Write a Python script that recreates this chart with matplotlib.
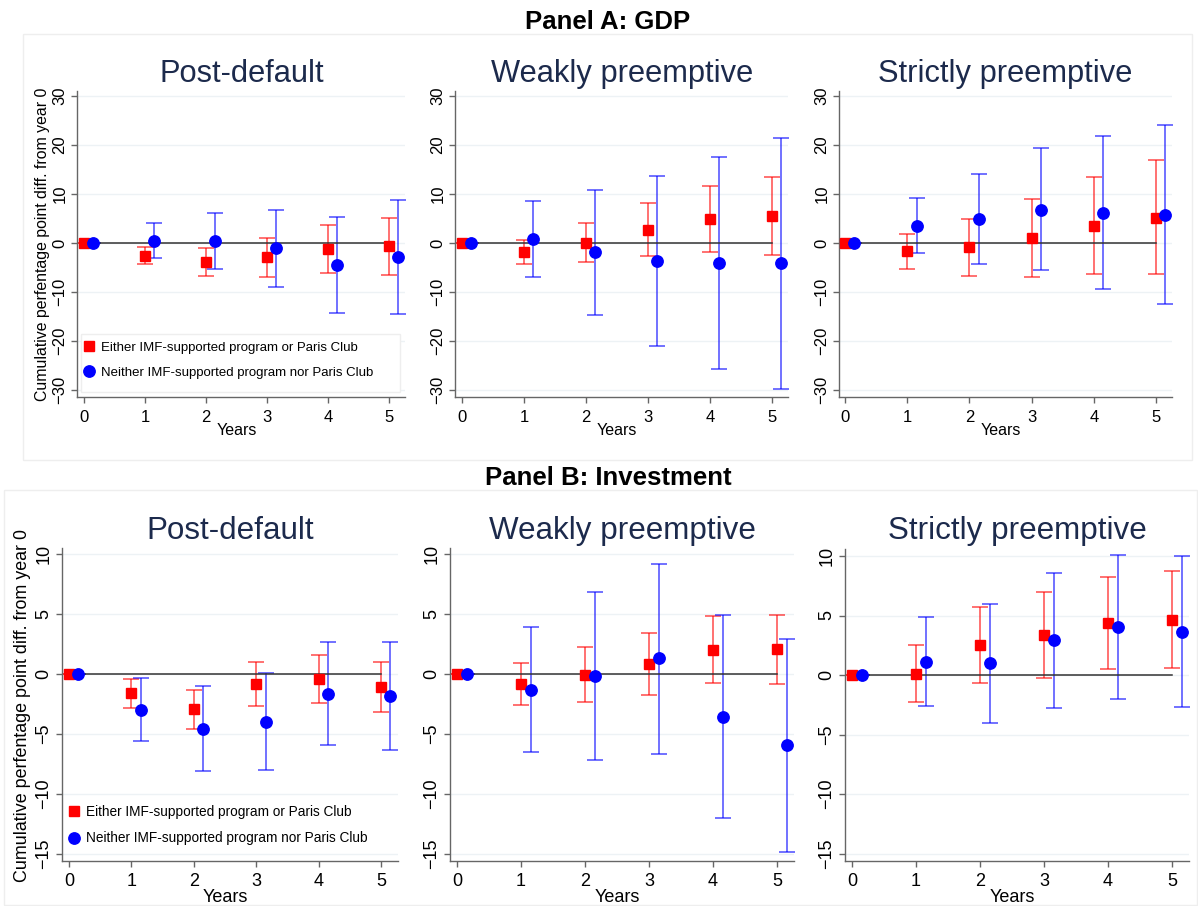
import matplotlib
matplotlib.use("Agg")
import matplotlib.pyplot as plt
from matplotlib.lines import Line2D
from matplotlib.patches import Rectangle
import numpy as np

plt.rcParams['font.family'] = ['Liberation Sans', 'DejaVu Sans']

W, H = 1198, 906
years = [0, 1, 2, 3, 4, 5]

# ---- Panel A: GDP ----
gdp_post_either = [0, -2.6, -3.8, -2.9, -1.2, -0.7]
gdp_post_either_lo = [0, -4.3, -6.8, -6.9, -6.2, -6.5]
gdp_post_either_hi = [0, -0.75, -1.0, 1.1, 3.7, 5.05]
gdp_post_neither = [0, 0.4, 0.4, -1.1, -4.5, -2.9]
gdp_post_neither_lo = [0, -3.1, -5.3, -8.9, -14.3, -14.4]
gdp_post_neither_hi = [0, 4.0, 6.2, 6.8, 5.3, 8.7]

gdp_weak_either = [0, -1.8, 0.1, 2.7, 4.9, 5.5]
gdp_weak_either_lo = [0, -4.2, -3.8, -2.7, -1.8, -2.5]
gdp_weak_either_hi = [0, 0.7, 4.1, 8.1, 11.6, 13.4]
gdp_weak_neither = [0, 0.8, -1.9, -3.7, -4.0, -4.0]
gdp_weak_neither_lo = [0, -7.0, -14.7, -21.1, -25.8, -29.7]
gdp_weak_neither_hi = [0, 8.6, 10.8, 13.6, 17.6, 21.4]

gdp_strict_either = [0, -1.6, -0.9, 1.0, 3.5, 5.2]
gdp_strict_either_lo = [0, -5.3, -6.7, -7.0, -6.4, -6.4]
gdp_strict_either_hi = [0, 1.9, 4.9, 8.9, 13.4, 17.0]
gdp_strict_neither = [0, 3.5, 4.9, 6.8, 6.2, 5.8]
gdp_strict_neither_lo = [0, -2.1, -4.2, -5.6, -9.3, -12.5]
gdp_strict_neither_hi = [0, 9.1, 14.0, 19.3, 21.8, 24.0]

# ---- Panel B: Investment ----
inv_post_either = [0, -1.6, -2.9, -0.8, -0.45, -1.05]
inv_post_either_lo = [0, -2.8, -4.6, -2.7, -2.4, -3.15]
inv_post_either_hi = [0, -0.4, -1.3, 1.0, 1.55, 1.0]
inv_post_neither = [0, -3.0, -4.6, -4.0, -1.65, -1.85]
inv_post_neither_lo = [0, -5.6, -8.1, -8.0, -5.95, -6.3]
inv_post_neither_hi = [0, -0.3, -1.0, 0.05, 2.65, 2.65]

inv_weak_either = [0, -0.8, -0.1, 0.85, 2.0, 2.05]
inv_weak_either_lo = [0, -2.55, -2.35, -1.75, -0.75, -0.85]
inv_weak_either_hi = [0, 0.9, 2.25, 3.45, 4.8, 4.95]
inv_weak_neither = [0, -1.3, -0.2, 1.3, -3.55, -5.9]
inv_weak_neither_lo = [0, -6.5, -7.2, -6.7, -12.0, -14.8]
inv_weak_neither_hi = [0, 3.95, 6.8, 9.2, 4.95, 2.95]

inv_strict_either = [0, 0.1, 2.55, 3.35, 4.35, 4.65]
inv_strict_either_lo = [0, -2.25, -0.65, -0.25, 0.5, 0.6]
inv_strict_either_hi = [0, 2.5, 5.75, 7.0, 8.2, 8.7]
inv_strict_neither = [0, 1.1, 1.0, 2.9, 4.0, 3.65]
inv_strict_neither_lo = [0, -2.6, -4.05, -2.75, -2.05, -2.65]
inv_strict_neither_hi = [0, 4.85, 6.0, 8.6, 10.1, 10.0]

subtitles = ["Post-default", "Weakly preemptive", "Strictly preemptive"]
legend_labels = ["Either IMF-supported program or Paris Club",
                 "Neither IMF-supported program nor Paris Club"]
ylabel = "Cumulative perfentage point diff. from year 0"
xlabel = "Years"
gdp_yticks = [-30, -20, -10, 0, 10, 20, 30]
inv_yticks = [-15, -10, -5, 0, 5, 10]

RED = '#ff0000'
BLUE = '#0000ff'
NAVY = '#1c2a4c'
GRID = '#edf2f5'
SPINE = '#666666'

fig = plt.figure(figsize=(W / 100, H / 100), dpi=100)


def px_axes(left, top, right, bottom):
    return fig.add_axes([left / W, 1 - bottom / H, (right - left) / W, (bottom - top) / H])


def draw(ax, e, elo, ehi, n, nlo, nhi, yticks, ylim, xlim, tsize):
    x = np.array(years, dtype=float)
    xb = x + 0.15
    e, elo, ehi = map(np.array, (e, elo, ehi))
    n, nlo, nhi = map(np.array, (n, nlo, nhi))
    ax.errorbar(x, e, yerr=[e - elo, ehi - e], fmt='none', ecolor=RED, alpha=0.6,
                elinewidth=1.3, capsize=5.8, capthick=1.3, zorder=2)
    ax.errorbar(xb, n, yerr=[n - nlo, nhi - n], fmt='none', ecolor=BLUE, alpha=0.6,
                elinewidth=1.3, capsize=5.8, capthick=1.3, zorder=2)
    ax.plot([0, 5], [0, 0], color='#333333', lw=1.1, zorder=2.5)
    ax.plot(x, e, ls='none', marker='s', ms=7.5, color=RED, mec=RED, zorder=3)
    ax.plot(xb, n, ls='none', marker='o', ms=8.2, color=BLUE, mec=BLUE, zorder=3)
    ax.set_xlim(*xlim)
    ax.set_ylim(*ylim)
    ax.set_xticks(years)
    ax.set_yticks(yticks)
    for yt in yticks:
        ax.axhline(yt, color=GRID, lw=1.0, zorder=0)
    for s in ['top', 'right']:
        ax.spines[s].set_visible(False)
    for s in ['left', 'bottom']:
        ax.spines[s].set_color(SPINE)
        ax.spines[s].set_linewidth(1.0)
    ax.tick_params(axis='both', colors=SPINE, length=4, width=1.0, labelcolor='black',
                   labelsize=tsize)
    ax.tick_params(axis='x', pad=5)
    ax.tick_params(axis='y', pad=3)
    for lab in ax.get_yticklabels():
        lab.set_rotation(90)
        lab.set_va('center')
        lab.set_ha('right')
    ax.set_facecolor('white')


# Panel frames (faint)
fig.add_artist(Rectangle((23 / W, 1 - 460 / H), (1192 - 23) / W, (460 - 34) / H,
                         transform=fig.transFigure, fill=False, ec='#eeeeee', lw=1.0))
fig.add_artist(Rectangle((4 / W, 1 - 905 / H), (1197 - 4) / W, (905 - 490) / H,
                         transform=fig.transFigure, fill=False, ec='#eeeeee', lw=1.0))

fig.text(608 / W, 1 - 29 / H, "Panel A: GDP", ha='center', va='baseline',
         fontsize=18.5, fontweight='bold')
fig.text(608 / W, 1 - 485 / H, "Panel B: Investment", ha='center', va='baseline',
         fontsize=18.5, fontweight='bold')

# Panel A axes geometry (pixels)
A_geo = [(77, 405, 84, 389), (455, 788, 462, 772), (839, 1172, 845, 1156)]
A_top, A_bot, A_y30, A_y0 = 91, 397, 96, 243
upp = (A_y0 - A_y30) / 30.0
A_ylim = (-(A_bot - A_y0) / upp, (A_y0 - A_top) / upp)
gdp_sets = [
    (gdp_post_either, gdp_post_either_lo, gdp_post_either_hi,
     gdp_post_neither, gdp_post_neither_lo, gdp_post_neither_hi),
    (gdp_weak_either, gdp_weak_either_lo, gdp_weak_either_hi,
     gdp_weak_neither, gdp_weak_neither_lo, gdp_weak_neither_hi),
    (gdp_strict_either, gdp_strict_either_lo, gdp_strict_either_hi,
     gdp_strict_neither, gdp_strict_neither_lo, gdp_strict_neither_hi),
]
A_title_x = [242, 622, 1005]
axesA = []
for i, ((l, r, x0, x5), d) in enumerate(zip(A_geo, gdp_sets)):
    ax = px_axes(l, A_top, r, A_bot)
    ppu = (x5 - x0) / 5.0
    xlim = (-(x0 - l) / ppu, 5 + (r - x5) / ppu)
    draw(ax, *d, gdp_yticks, A_ylim, xlim, 12)
    fig.text(A_title_x[i] / W, 1 - 82 / H, subtitles[i], ha='center', va='baseline',
             fontsize=22.2, color=NAVY)
    fig.text(((x0 + x5) / 2) / W, 1 - 435 / H, xlabel, ha='center', va='baseline',
             fontsize=11.5)
    axesA.append(ax)
fig.text(43 / W, 1 - 244 / H, ylabel, rotation=90, ha='center', va='center', fontsize=11.4)

# Panel B axes geometry
B_geo = [(62, 398, 69, 381, 548, 861, 554, 674),
         (450, 794, 457, 777, 548, 861, 554, 674),
         (845, 1189, 852, 1172, 549, 861, 556, 675)]
inv_sets = [
    (inv_post_either, inv_post_either_lo, inv_post_either_hi,
     inv_post_neither, inv_post_neither_lo, inv_post_neither_hi),
    (inv_weak_either, inv_weak_either_lo, inv_weak_either_hi,
     inv_weak_neither, inv_weak_neither_lo, inv_weak_neither_hi),
    (inv_strict_either, inv_strict_either_lo, inv_strict_either_hi,
     inv_strict_neither, inv_strict_neither_lo, inv_strict_neither_hi),
]
B_title_x = [230, 622, 1017]
axesB = []
for i, ((l, r, x0, x5, top, bot, y10, y0), d) in enumerate(zip(B_geo, inv_sets)):
    ax = px_axes(l, top, r, bot)
    ppu = (x5 - x0) / 5.0
    xlim = (-(x0 - l) / ppu, 5 + (r - x5) / ppu)
    yupp = (y0 - y10) / 10.0
    ylim = (-(bot - y0) / yupp, (y0 - top) / yupp)
    draw(ax, *d, inv_yticks, ylim, xlim, 13)
    fig.text(B_title_x[i] / W, 1 - 539 / H, subtitles[i], ha='center', va='baseline',
             fontsize=22.6, color=NAVY)
    fig.text(((x0 + x5) / 2) / W, 1 - 902 / H, xlabel, ha='center', va='baseline',
             fontsize=13)
    axesB.append(ax)
fig.text(23 / W, 1 - 706 / H, ylabel, rotation=90, ha='center', va='center', fontsize=12.9)

# Legends
handles = [Line2D([], [], ls='none', marker='s', ms=7.5, color=RED),
           Line2D([], [], ls='none', marker='o', ms=8.2, color=BLUE)]
frameA = Rectangle((81 / W, 1 - 392 / H), (400 - 81) / W, (392 - 334) / H,
                   transform=fig.transFigure, fill=True, fc='white',
                   ec='#eeeeee', lw=1.0, zorder=4, clip_on=False)
axesA[0].add_patch(frameA)
legA = axesA[0].legend(handles, legend_labels, loc='upper left',
                       bbox_to_anchor=(77 / W, 1 - 335 / H), bbox_transform=fig.transFigure,
                       frameon=False, fontsize=9.5,
                       handlelength=0.8, handletextpad=0.55, labelspacing=0.98,
                       borderpad=0.5, borderaxespad=0)
legA.set_zorder(5)
legB = axesB[0].legend(handles, legend_labels, loc='upper left',
                       bbox_to_anchor=(64 / W, 1 - 801 / H), bbox_transform=fig.transFigure,
                       frameon=False, fontsize=9.8,
                       handlelength=0.8, handletextpad=0.55, labelspacing=0.9,
                       borderpad=0.3, borderaxespad=0)

fig.savefig("out.png", dpi=100, facecolor='white')
